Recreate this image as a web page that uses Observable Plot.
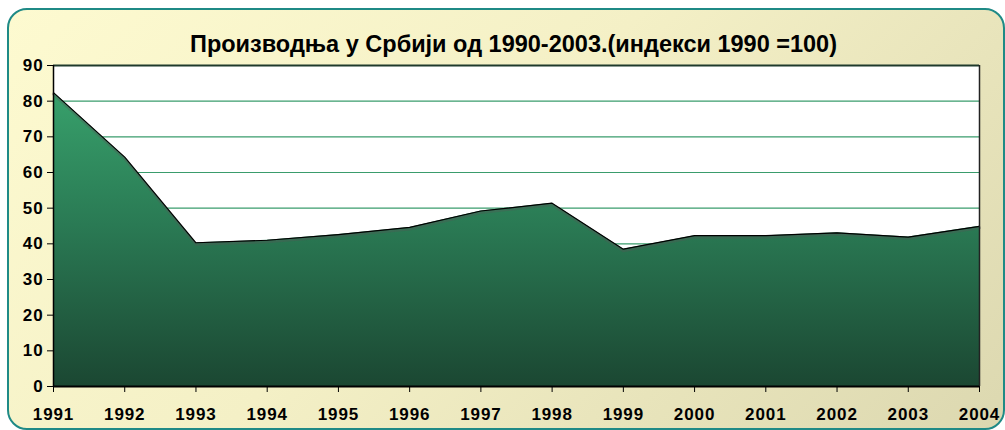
<!DOCTYPE html>
<html>
<head>
<meta charset="utf-8">
<script src="https://cdn.jsdelivr.net/npm/d3@7"></script>
<script src="https://cdn.jsdelivr.net/npm/@observablehq/plot@0.6"></script>
<style>
  html, body { margin: 0; padding: 0; background: #ffffff; }
  #wrap { position: relative; width: 1005px; height: 430px; overflow: hidden; }
  #box { position: absolute; left: 7px; top: 8px; width: 994px; height: 418px;
         border: 2px solid #1f8a86; border-radius: 20px;
         background: linear-gradient(135deg, #fdfad0 0%, #f4f0c6 45%, #dcd8b0 100%); }
  #chart { position: absolute; left: 0; top: 0; }
  #chart g[aria-label$="tick label"], #chart g[aria-label$="tick label"] text {
    font-size: 17px !important; letter-spacing: 0.9px; font-weight: bold; }
</style>
</head>
<body>
<div id="wrap"><div id="box"></div><div id="chart"></div></div>
<script>
const title = "Производња у Србији од 1990-2003.(индекси 1990 =100)";
const years = [1991, 1992, 1993, 1994, 1995, 1996, 1997, 1998, 1999, 2000, 2001, 2002, 2003, 2004];
const values = [82.4, 64.3, 40.3, 41.0, 42.6, 44.6, 49.2, 51.4, 38.5, 42.3, 42.3, 43.1, 41.9, 44.9];
const yTicks = [0, 10, 20, 30, 40, 50, 60, 70, 80, 90];
const gridLines = [10, 20, 30, 40, 50, 60, 70, 80];

const data = years.map((y, i) => ({year: y, value: values[i]}));

const plot = Plot.plot({
  width: 1005,
  height: 430,
  marginLeft: 53,
  marginRight: 26,
  marginTop: 65,
  marginBottom: 44,
  style: {background: "transparent", fontFamily: "'Liberation Sans', Arial, sans-serif", fontWeight: "bold", fontSize: "17px", color: "#000"},
  x: {type: "linear", domain: [1991, 2004], ticks: years, tickFormat: d => String(d), label: null},
  y: {domain: [0, 90], ticks: yTicks, label: null},
  marks: [
    Plot.frame({fill: "white", stroke: null}),
    Plot.ruleY(gridLines, {stroke: "#3a9c6c", strokeWidth: 1.2}),
    Plot.areaY(data, {x: "year", y: "value", fill: "url(#areaGrad)"}),
    Plot.lineY(data, {x: "year", y: "value", stroke: "#555", strokeWidth: 3, strokeOpacity: 0.35, dy: 1.5}),
    Plot.lineY(data, {x: "year", y: "value", stroke: "#000", strokeWidth: 1.2}),
    Plot.ruleY([90], {stroke: "#1f3a2c", strokeWidth: 2}),
    Plot.ruleX([2004], {stroke: "#222", strokeWidth: 1.5}),
    Plot.ruleX([1991], {stroke: "#000", strokeWidth: 1.5}),
    Plot.ruleY([0], {stroke: "#000", strokeWidth: 2}),
    Plot.axisX({ticks: years, tickFormat: d => String(d), tickSize: 6, tickPadding: 15, fontSize: 17, fontWeight: "bold", stroke: "#000"}),
    Plot.axisY({ticks: yTicks, tickSize: 6, tickPadding: 4, fontSize: 17, fontWeight: "bold", stroke: "#000"}),
    Plot.text([title], {frameAnchor: "top", lineAnchor: "middle", dy: -21, dx: -3, fontSize: 23.5, fontWeight: "bold", fill: "#000"})
  ]
});

const svg = d3.select(plot);
const defs = svg.insert("defs", ":first-child");
const grad = defs.append("linearGradient").attr("id", "areaGrad")
  .attr("x1", 0).attr("y1", 0).attr("x2", 0).attr("y2", 1);
grad.append("stop").attr("offset", "0%").attr("stop-color", "#37a06b");
grad.append("stop").attr("offset", "45%").attr("stop-color", "#2a7a54");
grad.append("stop").attr("offset", "100%").attr("stop-color", "#1b4732");

document.getElementById("chart").appendChild(plot);
</script>
</body>
</html>
